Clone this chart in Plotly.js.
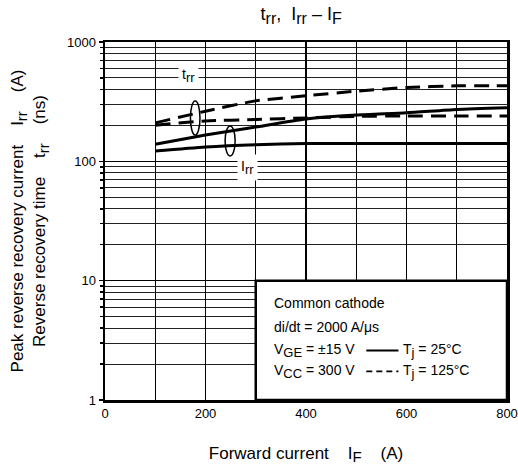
<!DOCTYPE html>
<html>
<head>
<meta charset="utf-8">
<script src="https://cdn.plot.ly/plotly-3.0.1.min.js"></script>
<style>html,body{margin:0;padding:0;background:#fff;}#chart{width:518px;height:470px;}</style>
</head>
<body>
<div id="chart"></div>
<script>
// Forward current I_F (A)
var forwardCurrent = [100, 200, 300, 400, 500, 600, 700, 800];
// Tj = 25°C (solid)
var trr25 = [139, 166, 194, 226, 244, 255, 272, 281];
var irr25 = [122, 132, 138, 141, 141, 141, 141, 141];
// Tj = 125°C (dashed)
var trr125 = [210, 263, 321, 354, 387, 416, 429, 429];
var irr125 = [201, 218, 224, 231, 238, 240, 240, 240];

var xTickVals = [0, 200, 400, 600, 800];
var xTickText = ['0', '200', '400', '600', '800'];
var yTickVals = [1, 10, 100, 1000];
var yTickText = ['1', '10', '100', '1000'];

var FONT = 'Liberation Sans, Arial, Helvetica, sans-serif';
var NB = '\u00a0';
function sub(t, px) { return '<sub><span style="font-size:' + px + 'px">' + t + '</span></sub>'; }

function tr(y, dash, name) {
  return {
    x: forwardCurrent, y: y, type: 'scatter', mode: 'lines', name: name,
    line: {color: '#000', width: 3, dash: dash, shape: 'spline', smoothing: 0.6},
    showlegend: false, hoverinfo: 'skip'
  };
}

var data = [
  tr(trr25, 'solid', 'trr Tj=25°C'),
  tr(irr25, 'solid', 'Irr Tj=25°C'),
  tr(trr125, '15px,8px', 'trr Tj=125°C'),
  tr(irr125, '15px,8px', 'Irr Tj=125°C')
];

var layout = {
  width: 518, height: 470,
  margin: {l: 105, r: 11, t: 42, b: 70},
  paper_bgcolor: '#fff', plot_bgcolor: '#fff',
  font: {family: FONT, color: '#000', size: 13},
  title: {
    text: 't' + sub('rr', 16) + ',' + NB + NB + 'I' + sub('rr', 16) + ' \u2013 I' + sub('F', 16),
    font: {family: FONT, size: 18, color: '#000'},
    xref: 'paper', x: 0.488, xanchor: 'center',
    yref: 'container', y: 0.97, yanchor: 'middle'
  },
  showlegend: false,
  xaxis: {
    range: [0, 800], fixedrange: true,
    tickmode: 'array', tickvals: xTickVals, ticktext: xTickText,
    ticks: '', showline: true, mirror: true, linecolor: '#000', linewidth: 2.5,
    showgrid: true, gridcolor: '#000', gridwidth: 1.5, zeroline: false,
    minor: {dtick: 100, tick0: 0, showgrid: true, gridcolor: '#000', gridwidth: 1, ticks: ''},
    tickfont: {size: 13, family: FONT},
    title: {
      text: 'Forward current' + NB + NB + NB + ' I' + sub('F', 15) + NB + NB + NB + ' (A)',
      font: {size: 17, family: FONT}, standoff: 27
    }
  },
  yaxis: {
    type: 'log', range: [0, 3], fixedrange: true,
    tickmode: 'array', tickvals: yTickVals, ticktext: yTickText,
    ticks: 'outside', ticklen: 4, tickwidth: 1.5, tickcolor: '#000',
    showline: true, mirror: true, linecolor: '#000', linewidth: 2.5,
    showgrid: true, gridcolor: '#000', gridwidth: 1.5, zeroline: false,
    minor: {dtick: 'D1', showgrid: true, gridcolor: '#222', gridwidth: 1, ticks: 'outside', ticklen: 3, tickcolor: '#000'},
    tickfont: {size: 13, family: FONT},
    title: {
      text: 'Peak reverse recovery current' + NB + NB + NB + ' I' + sub('rr', 15) + NB + NB + NB + ' (A)<br>Reverse recovery time' + NB + NB + NB + ' t' + sub('rr', 15) + NB + NB + NB + ' (ns)',
      font: {size: 17, family: FONT}, standoff: 17
    }
  },
  shapes: [
    // condition box
    {type: 'rect', xref: 'x', yref: 'y', x0: 300, x1: 800, y0: 1, y1: 10,
     fillcolor: '#fff', line: {color: '#000', width: 2.5}, layer: 'above'},
    // ellipses grouping curves
    {type: 'circle', xref: 'x', yref: 'y', x0: 170, x1: 189, y0: 166, y1: 321,
     line: {color: '#000', width: 1.5}, fillcolor: 'rgba(0,0,0,0)', layer: 'above'},
    {type: 'circle', xref: 'x', yref: 'y', x0: 239, x1: 259, y0: 111, y1: 198,
     line: {color: '#000', width: 1.5}, fillcolor: 'rgba(0,0,0,0)', layer: 'above'},
    // legend samples
    {type: 'line', xref: 'x', yref: 'y', x0: 520, x1: 584, y0: 2.6, y1: 2.6,
     line: {color: '#000', width: 1.8}, layer: 'above'},
    {type: 'line', xref: 'x', yref: 'y', x0: 520, x1: 584, y0: 1.74, y1: 1.74,
     line: {color: '#000', width: 1.8, dash: '6px,4px'}, layer: 'above'}
  ],
  annotations: [
    {x: 167, y: 2.722, xref: 'x', yref: 'y', text: 't' + sub('rr', 13), showarrow: false,
     bgcolor: '#fff', borderpad: 3, font: {size: 14}},
    {x: 283, y: 1.95, xref: 'x', yref: 'y', text: 'I' + sub('rr', 13), showarrow: false,
     bgcolor: '#fff', borderpad: 3, font: {size: 14}},
    {x: 333, y: 0.81, xref: 'x', yref: 'y', xanchor: 'left', text: 'Common cathode', showarrow: false, font: {size: 14}},
    {x: 333, y: 0.608, xref: 'x', yref: 'y', xanchor: 'left', text: 'di/dt = 2000 A/\u03bcs', showarrow: false, font: {size: 14}},
    {x: 333, y: 0.415, xref: 'x', yref: 'y', xanchor: 'left', text: 'V' + sub('GE', 13) + ' = \u00b115 V', showarrow: false, font: {size: 14}},
    {x: 333, y: 0.24, xref: 'x', yref: 'y', xanchor: 'left', text: 'V' + sub('CC', 13) + ' = 300 V', showarrow: false, font: {size: 14}},
    {x: 590, y: 0.415, xref: 'x', yref: 'y', xanchor: 'left', text: 'T' + sub('j', 13) + ' = 25\u00b0C', showarrow: false, font: {size: 14}},
    {x: 590, y: 0.24, xref: 'x', yref: 'y', xanchor: 'left', text: 'T' + sub('j', 13) + ' = 125\u00b0C', showarrow: false, font: {size: 14}}
  ]
};

Plotly.newPlot('chart', data, layout, {staticPlot: true, displayModeBar: false});
</script>
</body>
</html>
